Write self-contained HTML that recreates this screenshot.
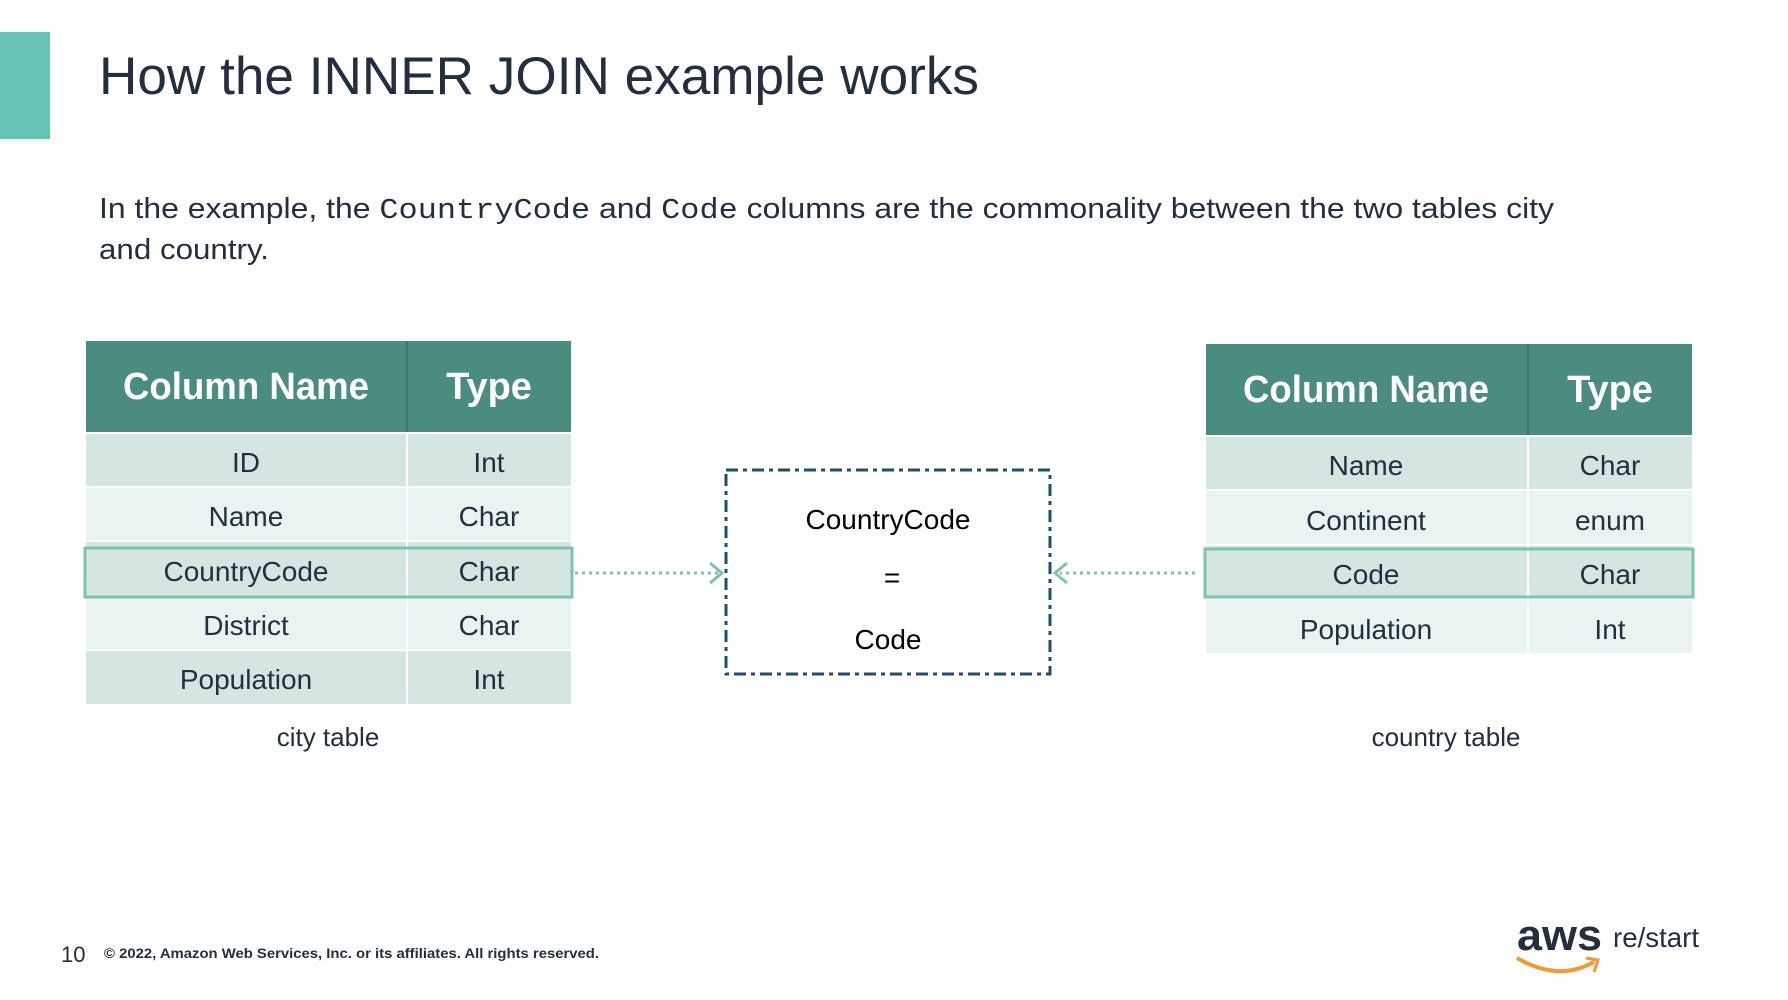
<!DOCTYPE html>
<html><head><meta charset="utf-8"><style>
html,body{margin:0;padding:0;background:#fff;}
svg{display:block;font-family:"Liberation Sans",sans-serif;}
</style></head><body>
<svg width="1788" height="1000" viewBox="0 0 1788 1000">
<rect x="0" y="32" width="50" height="107" fill="#66c2b4"/>
<text x="99" y="94" font-size="53" fill="#232f3e" textLength="880" lengthAdjust="spacingAndGlyphs">How the INNER JOIN example works</text>
<text x="99" y="218" font-size="29" fill="#232f3e" textLength="1455" lengthAdjust="spacingAndGlyphs">In the example, the <tspan font-family="Liberation Mono">CountryCode</tspan> and <tspan font-family="Liberation Mono">Code</tspan> columns are the commonality between the two tables city</text>
<text x="99" y="259" font-size="29" fill="#232f3e" textLength="170" lengthAdjust="spacingAndGlyphs">and country.</text>

<g font-size="28" fill="#232f3e" text-anchor="middle">
<rect x="86" y="341" width="485" height="91" fill="#4a8c80"/>
<rect x="86" y="434" width="485" height="52" fill="#d3e6e2"/>
<rect x="86" y="488" width="485" height="52" fill="#e9f3f1"/>
<rect x="86" y="542" width="485" height="54" fill="#d3e6e2"/>
<rect x="86" y="597" width="485" height="52" fill="#e9f3f1"/>
<rect x="86" y="651" width="485" height="53" fill="#d3e6e2"/>
<rect x="406" y="341" width="2" height="363" fill="#fff"/>
<rect x="406" y="341" width="2" height="91" fill="#3c7a6f"/>
<rect x="85" y="548" width="487" height="49" fill="none" stroke="#7dc3b0" stroke-width="3"/>
<text x="246" y="399" font-size="38" font-weight="bold" fill="#fff" textLength="246" lengthAdjust="spacingAndGlyphs">Column Name</text>
<text x="489" y="399" font-size="38" font-weight="bold" fill="#fff">Type</text>
<text x="246" y="472">ID</text><text x="489" y="472">Int</text>
<text x="246" y="526">Name</text><text x="489" y="526">Char</text>
<text x="246" y="581">CountryCode</text><text x="489" y="581">Char</text>
<text x="246" y="635">District</text><text x="489" y="635">Char</text>
<text x="246" y="689">Population</text><text x="489" y="689">Int</text>
<text x="328" y="746" font-size="26">city table</text>

<rect x="1206" y="344" width="486" height="91" fill="#4a8c80"/>
<rect x="1206" y="437" width="486" height="52" fill="#d3e6e2"/>
<rect x="1206" y="491" width="486" height="53" fill="#e9f3f1"/>
<rect x="1206" y="546" width="486" height="52" fill="#d3e6e2"/>
<rect x="1206" y="600" width="486" height="53" fill="#e9f3f1"/>
<rect x="1527" y="344" width="2" height="309" fill="#fff"/>
<rect x="1527" y="344" width="2" height="91" fill="#3c7a6f"/>
<rect x="1205" y="549" width="488" height="48" fill="none" stroke="#7dc3b0" stroke-width="3"/>
<text x="1366" y="402" font-size="38" font-weight="bold" fill="#fff" textLength="246" lengthAdjust="spacingAndGlyphs">Column Name</text>
<text x="1610" y="402" font-size="38" font-weight="bold" fill="#fff">Type</text>
<text x="1366" y="475">Name</text><text x="1610" y="475">Char</text>
<text x="1366" y="530">Continent</text><text x="1610" y="530">enum</text>
<text x="1366" y="584">Code</text><text x="1610" y="584">Char</text>
<text x="1366" y="639">Population</text><text x="1610" y="639">Int</text>
<text x="1446" y="746" font-size="26">country table</text>

<rect x="726" y="470" width="324" height="204" fill="none" stroke="#1f4e6e" stroke-width="3" stroke-dasharray="12,5,4,5"/>
<text x="888" y="529" fill="#000">CountryCode</text>
<text x="892" y="587" fill="#000">=</text>
<text x="888" y="649" fill="#000">Code</text>
</g>

<g stroke="#7dc3b0" stroke-width="3" fill="none">
<line x1="575" y1="573" x2="719" y2="573" stroke-dasharray="3,4"/>
<polyline points="710,563 722,573 710,583"/>
<line x1="1195" y1="573" x2="1060" y2="573" stroke-dasharray="3,4"/>
<polyline points="1067,563 1055,573 1067,583"/>
</g>

<text x="61" y="962" font-size="22" fill="#232f3e">10</text>
<text x="104" y="958" font-size="14" font-weight="bold" fill="#232f3e" textLength="495" lengthAdjust="spacingAndGlyphs">© 2022, Amazon Web Services, Inc. or its affiliates. All rights reserved.</text>
<text x="1517" y="950" font-size="44" font-weight="bold" fill="#232f3e" textLength="85" lengthAdjust="spacingAndGlyphs">aws</text>
<path d="M1517,958 Q1558,982 1594,962" stroke="#f29a2e" stroke-width="4" fill="none"/>
<path d="M1586,958 L1598,960 L1594,972" stroke="#f29a2e" stroke-width="3" fill="none"/>
<text x="1613" y="947" font-size="28" fill="#232f3e" textLength="86" lengthAdjust="spacingAndGlyphs">re/start</text>
</svg>
</body></html>
